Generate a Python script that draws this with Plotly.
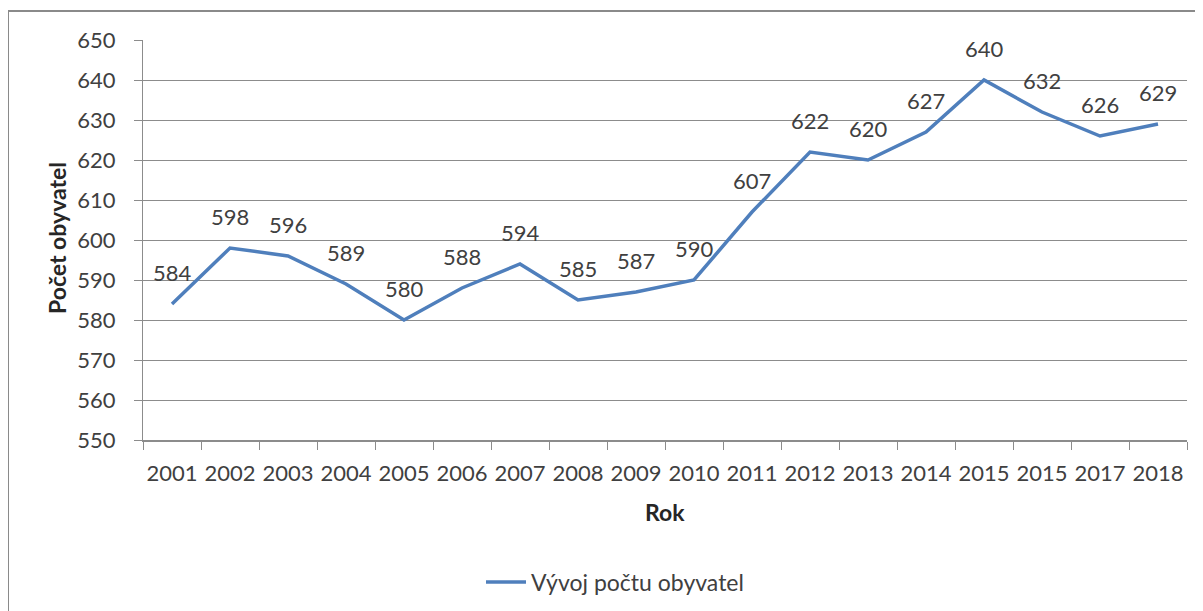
import plotly.graph_objects as go

years = ["2001", "2002", "2003", "2004", "2005", "2006", "2007", "2008", "2009",
         "2010", "2011", "2012", "2013", "2014", "2015", "2015", "2017", "2018"]
population = [584, 598, 596, 589, 580, 588, 594, 585, 587, 590, 607, 622, 620,
              627, 640, 632, 626, 629]
series_name = "Vývoj počtu obyvatel"
y_title = "Počet obyvatel"
x_title = "Rok"
y_ticks = list(range(550, 651, 10))

FONT = "Lato, 'Open Sans', sans-serif"
TXT = "#404040"
GRID = "#8c8c8c"
LINE = "#4f7fbc"

xs = list(range(len(years)))

# plot area in page pixels: x 143..1187, y 40..440 (page body has an 8px offset)
PX0, PW, PY0, PH = 143, 1044, 40, 400


def px(xpix):
    return (xpix - PX0) / PW


def py(ypix):
    return (PY0 + PH - ypix) / PH


fig = go.Figure()
fig.add_trace(go.Scatter(
    x=xs, y=population, mode="lines", name=series_name,
    line=dict(color=LINE, width=3.5),
))

annotations = []
for x, v in zip(xs, population):
    annotations.append(dict(x=x, y=v, text=str(v), showarrow=False, yshift=32,
                            font=dict(family=FONT, size=22, color=TXT)))

annotations.append(dict(xref="paper", yref="paper", x=px(57), y=py(238),
                        xanchor="center", yanchor="middle",
                        text="<b>" + y_title + "</b>", textangle=-90, showarrow=False,
                        font=dict(family=FONT, size=23, color="#262626")))
annotations.append(dict(xref="paper", yref="paper", x=0.5, y=py(512),
                        xanchor="center", yanchor="middle",
                        text="<b>" + x_title + "</b>", showarrow=False,
                        font=dict(family=FONT, size=23, color="#262626")))

fig.update_layout(
    width=1203, height=611,
    margin=dict(l=PX0 - 8, r=1203 - (PX0 - 8) - PW, t=PY0 - 8, b=611 - (PY0 - 8) - PH,
                autoexpand=False),
    paper_bgcolor="white", plot_bgcolor="white",
    font=dict(family=FONT, size=22, color=TXT),
    showlegend=True,
    legend=dict(orientation="h", x=px(615), xanchor="center", y=py(582), yanchor="middle",
                font=dict(family=FONT, size=23, color=TXT), bgcolor="rgba(0,0,0,0)",
                itemwidth=40),
    annotations=annotations,
    shapes=[dict(type="rect", xref="paper", yref="paper",
                 x0=px(8), x1=px(1220), y0=py(630), y1=py(11),
                 line=dict(color="#8a8a8a", width=2), layer="below")],
    xaxis=dict(
        range=[-0.5, len(years) - 0.5],
        tickmode="array", tickvals=xs, ticktext=years,
        ticks="outside", ticklen=13, tickcolor="rgba(0,0,0,0)",
        showgrid=False, zeroline=False,
        showline=True, linecolor=GRID, linewidth=1.5,
        tickfont=dict(family=FONT, size=22, color=TXT),
        minor=dict(tickmode="array", tickvals=[i - 0.5 for i in range(len(years) + 1)],
                   ticks="outside", ticklen=8, tickcolor=GRID, tickwidth=1, showgrid=False),
    ),
    yaxis=dict(
        range=[550, 650], tickmode="array", tickvals=y_ticks,
        ticks="outside", ticklen=8, tickcolor=GRID,
        showgrid=True, gridcolor=GRID, gridwidth=1,
        zeroline=False, showline=True, linecolor=GRID, linewidth=1,
        tickfont=dict(family=FONT, size=22, color=TXT),
        ticklabelstandoff=14,
    ),
)

fig.write_html("out.html")
